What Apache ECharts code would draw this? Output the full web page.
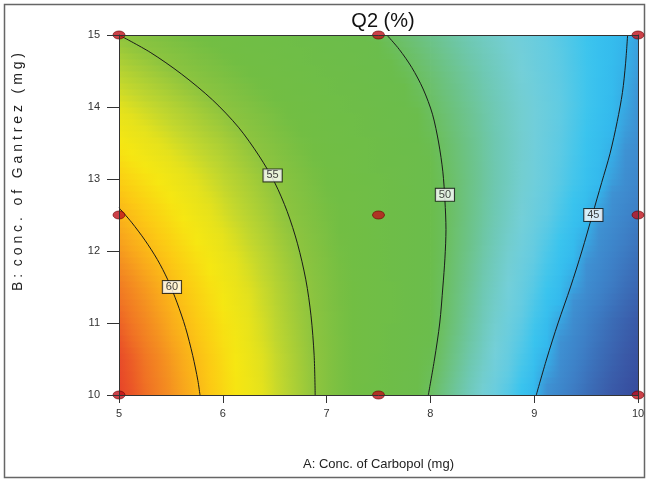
<!DOCTYPE html>
<html style="height: 100%">
<head>
<meta charset="utf-8">
<script src="https://cdn.jsdelivr.net/npm/echarts@6/dist/echarts.min.js"></script>
</head>
<body style="height: 100%; margin: 0; background: #fff;">
<div id="container" style="width: 648px; height: 481px;"></div>
<script type="text/javascript">
// 网格节点 (A: Carbopol, B: Gantrez)
var aNodes = [5, 5.5, 6, 6.5, 7, 7.5, 8, 8.5, 9, 9.5, 10];
var bNodes = [10, 10.5, 11, 11.5, 12, 12.5, 13, 13.5, 14, 14.5, 15];
// Q2 读数, 每行对应一个 B 值
var q2Grid = [
    [63.4, 61.25, 59.0, 56.75, 54.5, 52.2, 49.9, 47.5, 45.1, 42.65, 40.15],
    [63.2, 61.0, 58.8, 56.65, 54.5, 52.35, 50.2, 47.9, 45.55, 43.2, 40.8],
    [62.6, 60.5, 58.5, 56.4, 54.4, 52.4, 50.4, 48.2, 45.95, 43.65, 41.35],
    [61.95, 60.05, 58.1, 56.2, 54.3, 52.4, 50.45, 48.4, 46.35, 44.3, 42.2],
    [61.05, 59.35, 57.6, 55.85, 54.1, 52.3, 50.5, 48.6, 46.65, 44.75, 42.8],
    [60.25, 58.65, 57.0, 55.4, 53.8, 52.15, 50.5, 48.75, 47.0, 45.2, 43.4],
    [59.3, 57.9, 56.45, 55.0, 53.45, 51.95, 50.4, 48.8, 47.2, 45.6, 43.95],
    [58.3, 57.0, 55.8, 54.4, 53.0, 51.6, 50.2, 48.75, 47.25, 45.75, 44.3],
    [57.3, 56.15, 54.95, 53.7, 52.45, 51.2, 49.9, 48.6, 47.25, 45.9, 44.55],
    [56.2, 55.1, 54.0, 52.9, 51.8, 50.7, 49.55, 48.35, 47.1, 45.9, 44.7],
    [55.0, 54.0, 53.05, 52.1, 51.1, 50.15, 49.1, 48.0, 46.95, 45.85, 44.8]
];
// 等高线
var contour60 = [[5.0, 12.6], [5.12, 12.4], [5.25, 12.15], [5.37, 11.88], [5.47, 11.6], [5.56, 11.28], [5.64, 10.94], [5.71, 10.55], [5.76, 10.2], [5.78, 10.0]];
var contour55 = [[5.0, 15.0], [5.3, 14.76], [5.6, 14.46], [5.9, 14.1], [6.15, 13.72], [6.35, 13.32], [6.5, 12.95], [6.62, 12.55], [6.72, 12.1], [6.8, 11.6], [6.85, 11.1], [6.88, 10.55], [6.89, 10.0]];
var contour50 = [[7.58, 15.0], [7.7, 14.8], [7.82, 14.55], [7.93, 14.25], [8.02, 13.9], [8.08, 13.5], [8.12, 13.1], [8.14, 12.7], [8.15, 12.3], [8.14, 11.9], [8.12, 11.5], [8.09, 11.0], [8.04, 10.5], [7.98, 10.0]];
var contour45 = [[9.9, 15.0], [9.88, 14.6], [9.85, 14.2], [9.8, 13.8], [9.73, 13.35], [9.65, 12.95], [9.56, 12.5], [9.46, 12.0], [9.35, 11.5], [9.23, 11.0], [9.12, 10.5], [9.02, 10.0]];
var contourLabels = [[5.51, 11.5, '60'], [6.48, 13.05, '55'], [8.14, 12.78, '50'], [9.57, 12.5, '45']];
// 设计点
var designA = [5, 5, 5, 7.5, 7.5, 7.5, 10, 10, 10];
var designB = [10, 12.5, 15, 10, 12.5, 15, 10, 12.5, 15];

// 色带
var rampVal = [40.0, 41.5, 42.6, 43.5, 44.6, 45.1, 45.8, 46.6, 47.4, 48.4, 49.3, 50.3, 53.5, 55.0, 56.5, 57.3, 58.3, 59.5, 60.5, 61.3, 62.2, 62.9, 63.5];
var rampCol = ['#36489a', '#3a5aa8', '#3b6db7', '#3d7fc6', '#3e92d3', '#33b8ed', '#3ac4ee', '#62cbe2', '#74cfd8', '#6ec8b0', '#6cc280', '#6bbd4c',
               '#72be43', '#8dc43f', '#c2d72e', '#e5e21c', '#f6e712', '#fcc914', '#f9ab1b', '#f48f20', '#f07224', '#ea5327', '#e5402a'];

function rampColor(v) {
    if (v <= rampVal[0]) return rampCol[0];
    for (var i = 1; i < rampVal.length; i++) {
        if (v <= rampVal[i]) {
            var t = (v - rampVal[i - 1]) / (rampVal[i] - rampVal[i - 1]);
            return echarts.color.lerp(t, [rampCol[i - 1], rampCol[i]]);
        }
    }
    return rampCol[rampCol.length - 1];
}

var cells = [];
for (var j = 0; j < bNodes.length - 1; j++) {
    for (var i = 0; i < aNodes.length - 1; i++) {
        cells.push([aNodes[i], bNodes[j], aNodes[i + 1], bNodes[j + 1],
            q2Grid[j][i], q2Grid[j][i + 1], q2Grid[j + 1][i], q2Grid[j + 1][i + 1]]);
    }
}

function renderCell(params, api) {
    var p0 = api.coord([api.value(0), api.value(1)]);
    var p1 = api.coord([api.value(2), api.value(3)]);
    var v00 = api.value(4), v10 = api.value(5), v01 = api.value(6), v11 = api.value(7);
    var strips = 6;
    var h = (p0[1] - p1[1]) / strips;
    var children = [];
    for (var k = 0; k < strips; k++) {
        var t = (k + 0.5) / strips;
        var vl = v00 + (v01 - v00) * t;
        var vr = v10 + (v11 - v10) * t;
        var stops = [];
        for (var m = 0; m <= 4; m++) {
            var s = m / 4;
            stops.push({offset: s, color: rampColor(vl + (vr - vl) * s)});
        }
        children.push({
            type: 'rect',
            shape: {x: p0[0] - 0.3, y: p0[1] - (k + 1) * h - 0.5, width: p1[0] - p0[0] + 0.8, height: h + 1},
            style: {fill: new echarts.graphic.LinearGradient(0, 0, 1, 0, stops)},
            silent: true
        });
    }
    return {type: 'group', children: children};
}

function lineSeries(data) {
    return {
        type: 'line', data: data, smooth: 0.3, showSymbol: false, z: 3, silent: true,
        lineStyle: {color: '#1a1a1a', width: 1}
    };
}

var font = 'Liberation Sans, Arial, sans-serif';
var myChart = echarts.init(document.getElementById('container'));
var option = {
    animation: false,
    title: {
        text: 'Q2 (%)', left: 378, top: 6, textAlign: 'center',
        textStyle: {fontSize: 20, fontWeight: 'normal', color: '#111', fontFamily: font}
    },
    grid: {left: 119, top: 35, width: 519, height: 360},
    xAxis: [{
        type: 'value', min: 5, max: 10, interval: 1, z: 10,
        name: 'A: Conc. of Carbopol (mg)', nameLocation: 'middle', nameGap: 63,
        nameTextStyle: {fontSize: 13, color: '#222', fontFamily: font},
        axisLine: {lineStyle: {color: '#333', width: 1}},
        axisTick: {length: 8, lineStyle: {color: '#333'}},
        axisLabel: {fontSize: 11, color: '#333', margin: 13, fontFamily: font},
        splitLine: {show: false}
    }, {
        type: 'value', min: 5, max: 10, position: 'top', z: 10,
        axisLine: {show: true, lineStyle: {color: '#333', width: 1}},
        axisTick: {show: false}, axisLabel: {show: false}, splitLine: {show: false}
    }],
    yAxis: [{
        type: 'value', min: 10, max: 15, interval: 1, z: 10,
        axisLine: {show: true, lineStyle: {color: '#333', width: 1}},
        axisTick: {show: true, length: 12, lineStyle: {color: '#333'}},
        axisLabel: {fontSize: 11, color: '#333', margin: 19, fontFamily: font},
        splitLine: {show: false}
    }, {
        type: 'value', min: 10, max: 15, position: 'right', z: 10,
        axisLine: {show: true, lineStyle: {color: '#333', width: 1}},
        axisTick: {show: false}, axisLabel: {show: false}, splitLine: {show: false}
    }],
    graphic: [{
        type: 'text', x: 18, y: 172, rotation: Math.PI / 2,
        style: {
            text: 'B :  c o n c .   o f   G a n t r e z   ( m g )',
            fontSize: 14, fill: '#222', fontFamily: font, align: 'center', verticalAlign: 'middle'
        }
    }, {
        type: 'rect', shape: {x: 4.5, y: 4.5, width: 640, height: 473},
        style: {fill: 'none', stroke: '#666', lineWidth: 1.5}, silent: true
    }],
    series: [{
        type: 'custom', renderItem: renderCell, data: cells, clip: true, z: 1, silent: true,
        encode: {x: [0, 2], y: [1, 3]}
    },
        lineSeries(contour60), lineSeries(contour55), lineSeries(contour50), lineSeries(contour45),
    {
        type: 'scatter', data: contourLabels, symbolSize: 1, z: 4, silent: true,
        itemStyle: {color: 'rgba(0,0,0,0)'},
        label: {
            show: true, position: 'inside', formatter: function (p) { return p.data[2]; },
            fontSize: 11, color: '#111', fontFamily: font,
            backgroundColor: '#fff', borderColor: '#111', borderWidth: 1, padding: [1, 3, 0, 3]
        }
    }, {
        type: 'scatter', z: 5, silent: true,
        data: designA.map(function (a, k) { return [a, designB[k]]; }),
        symbol: 'circle', symbolSize: [12, 8],
        itemStyle: {color: '#bf111b', borderColor: '#6b0000', borderWidth: 0.8}
    }]
};
myChart.setOption(option);
</script>
</body>
</html>
